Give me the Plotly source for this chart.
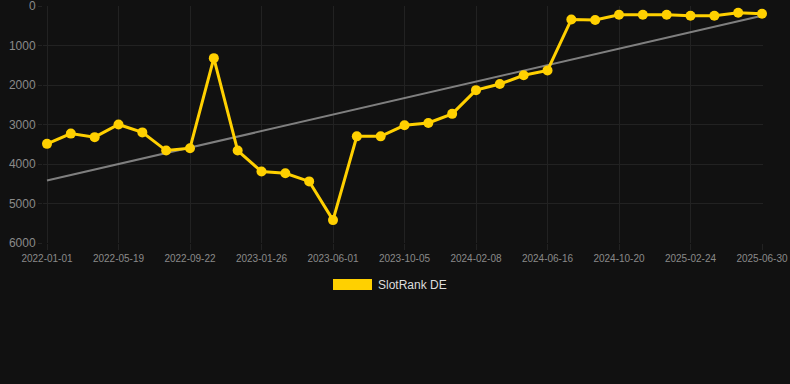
import plotly.graph_objects as go

dates = [
    "2022-01-01", "2022-02-16", "2022-04-03", "2022-05-19", "2022-06-30", "2022-08-11",
    "2022-09-22", "2022-11-03", "2022-12-15", "2023-01-26", "2023-03-09", "2023-04-20",
    "2023-06-01", "2023-07-13", "2023-08-24", "2023-10-05", "2023-11-16", "2023-12-28",
    "2024-02-08", "2024-03-21", "2024-05-02", "2024-06-16", "2024-07-28", "2024-09-08",
    "2024-10-20", "2024-12-01", "2025-01-12", "2025-02-24", "2025-04-07", "2025-05-19",
    "2025-06-30",
]
rank_de = [
    3490, 3230, 3320, 3000, 3200, 3660, 3600, 1320, 3660, 4190, 4235, 4440,
    5420, 3300, 3300, 3020, 2960, 2730, 2130, 1975, 1755, 1630, 340, 355,
    220, 220, 220, 245, 245, 170, 195,
]
trend_dates = [dates[0], dates[-1]]
trend_values = [4420, 245]
tick_labels = dates[::3]
y_ticks = [0, 1000, 2000, 3000, 4000, 5000, 6000]

BG = "#111111"
GOLD = "#FFD000"
TXT = "#8a8a8a"
GRID = "#222222"

fig = go.Figure()
fig.add_trace(go.Scatter(
    x=trend_dates, y=trend_values, mode="lines",
    line=dict(color="rgba(140,140,140,0.9)", width=2),
    showlegend=False, hoverinfo="skip",
))
fig.add_trace(go.Scatter(
    x=dates, y=rank_de, mode="lines+markers", name="SlotRank DE",
    line=dict(color=GOLD, width=3),
    marker=dict(color=GOLD, size=10),
    showlegend=False, cliponaxis=False,
))

# legend drawn manually (box + label)
fig.add_shape(type="rect", xref="paper", yref="paper",
              x0=(333 - 43) / 720, x1=(372 - 43) / 720,
              y0=(243 - 290) / 237, y1=(243 - 279) / 237,
              fillcolor=GOLD, line=dict(width=0))
fig.add_annotation(text="SlotRank DE", xref="paper", yref="paper",
                   x=(376 - 43) / 720, y=(243 - 285) / 237,
                   xanchor="left", yanchor="middle", showarrow=False,
                   font=dict(color="#dddddd", size=12))

n = len(dates)
ppi = (762 - 47) / (n - 1)
fig.update_layout(
    width=790, height=384,
    margin=dict(l=43, r=27, t=6, b=141),
    paper_bgcolor=BG, plot_bgcolor=BG,
    font=dict(family="Liberation Sans, Arial, sans-serif", color=TXT),
    showlegend=False,
)
fig.update_xaxes(
    type="category", categoryorder="array", categoryarray=dates,
    tickmode="array", tickvals=tick_labels, ticktext=tick_labels,
    range=[-4 / ppi, (n - 1) + 1 / ppi],
    showgrid=True, gridcolor=GRID, gridwidth=1,
    zeroline=False, showline=False,
    tickfont=dict(size=10, color=TXT),
    ticks="outside", ticklen=6, tickcolor=GRID,
    ticklabeloverflow="allow", automargin=False,
)
fig.update_yaxes(
    range=[6000, 0], tickvals=y_ticks,
    showgrid=True, gridcolor=GRID, gridwidth=1,
    zeroline=False, showline=False,
    tickfont=dict(size=12, color=TXT),
    ticks="outside", ticklen=4, tickcolor=GRID,
    ticklabeloverflow="allow", automargin=False,
)

fig.write_html("out.html", config={"displayModeBar": False})

with open("out.html", "r", encoding="utf-8") as f:
    html = f.read()
html = html.replace("<head>", "<head><style>html,body{margin:0;padding:0;background:#111111;overflow:hidden;}</style>", 1)
with open("out.html", "w", encoding="utf-8") as f:
    f.write(html)
